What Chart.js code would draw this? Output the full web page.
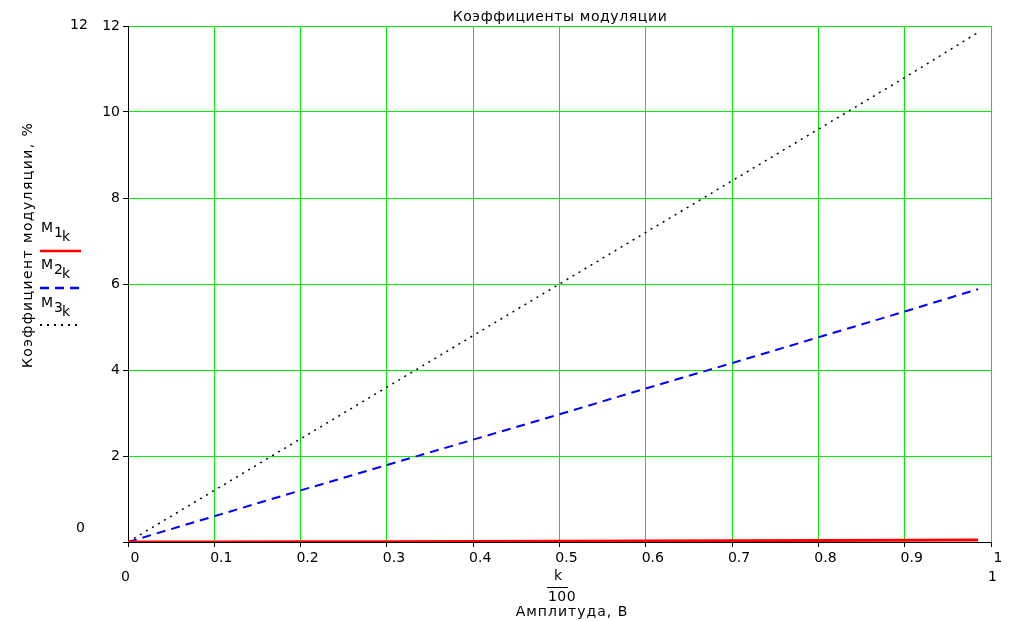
<!DOCTYPE html>
<html>
<head>
<meta charset="utf-8">
<script src="https://cdn.jsdelivr.net/npm/chart.js@4.4.1/dist/chart.umd.min.js"></script>
<style>
  body { margin: 0; background: #fff; }
  #wrap { position: relative; width: 1019px; height: 621px; font-family: "DejaVu Sans", sans-serif; color: #000; }
  #wrap canvas { position: absolute; left: 0; top: 0; }
  .t { position: absolute; white-space: nowrap; line-height: 1; font-size: 14px; }
</style>
</head>
<body>
<div id="wrap">
  <canvas id="modChart" width="1019" height="621"></canvas>

  <div class="t" id="title" style="left:560px; top:9px; letter-spacing:0.6px; transform:translateX(-50%);">Коэффициенты модуляции</div>
  <div class="t" id="ytitle" style="left:27px; top:245px; letter-spacing:1.4px; transform:translate(-50%,-50%) rotate(-90deg);">Коэффициент модуляции, %</div>

  <!-- legend labels -->
  <div class="t" style="left:41px; top:220px;">M</div>
  <div class="t" style="left:54px; top:225px;">1</div>
  <div class="t" style="left:62px; top:229px;">k</div>
  <div class="t" style="left:41px; top:257px;">M</div>
  <div class="t" style="left:54px; top:262px;">2</div>
  <div class="t" style="left:62px; top:266px;">k</div>
  <div class="t" style="left:41px; top:295px;">M</div>
  <div class="t" style="left:54px; top:300px;">3</div>
  <div class="t" style="left:62px; top:304px;">k</div>

  <!-- axis limits -->
  <div class="t" style="left:70px; top:17px;">12</div>
  <div class="t" style="left:76px; top:520px;">0</div>
  <div class="t" style="left:121px; top:569px;">0</div>
  <div class="t" style="left:988px; top:569px;">1</div>

  <!-- x title -->
  <div class="t" style="left:558px; top:568px; transform:translateX(-50%);">k</div>
  <div style="position:absolute; left:547px; top:587px; width:21px; height:1px; background:#000;"></div>
  <div class="t" style="left:562px; top:589px; letter-spacing:0.5px; transform:translateX(-50%);">100</div>
  <div class="t" style="left:572px; top:604px; letter-spacing:1px; transform:translateX(-50%);">Амплитуда, В</div>
</div>

<script>
// values (amplitude k/100 on x)
const amplitude = [0, 0.1, 0.2, 0.3, 0.4, 0.5, 0.6, 0.7, 0.8, 0.9, 0.985];
const m1 = [0, 0.002, 0.005, 0.008, 0.012, 0.018, 0.023, 0.03, 0.036, 0.042, 0.048];
const m2 = [0, 0.6, 1.2, 1.79, 2.38, 2.97, 3.57, 4.16, 4.76, 5.36, 5.88];
const m3 = [0, 1.2, 2.4, 3.6, 4.8, 6.0, 7.2, 8.4, 9.6, 10.8, 11.85];

const xMin = 0, xMax = 1, xStep = 0.1;
const yMin = 0, yMax = 12, yStep = 2;

const gridGreen = '#00ee00';

const toPoints = ys => amplitude.map((x, i) => ({ x: x, y: ys[i] }));

// legend samples on the left, Mathcad style
const legendSamples = {
    id: 'legendSamples',
    afterDraw(chart) {
        const ctx = chart.ctx;
        const rows = [
            { y: 251, color: '#ff0000', width: 2.5, dash: [] },
            { y: 288, color: '#0000ff', width: 2.5, dash: [9, 6] },
            { y: 325, color: '#000000', width: 2, dash: [2, 5] }
        ];
        ctx.save();
        rows.forEach(r => {
            ctx.beginPath();
            ctx.strokeStyle = r.color;
            ctx.lineWidth = r.width;
            ctx.setLineDash(r.dash);
            ctx.moveTo(40, r.y);
            ctx.lineTo(81, r.y);
            ctx.stroke();
        });
        ctx.restore();
    }
};

const ctx = document.getElementById('modChart');

new Chart(ctx, {
    type: 'scatter',
    data: {
        datasets: [{
            label: 'M1',
            data: toPoints(m1),
            showLine: true,
            borderColor: '#ff0000',
            borderWidth: 3,
            pointRadius: 0
        }, {
            label: 'M2',
            data: toPoints(m2),
            showLine: true,
            borderColor: '#0000ff',
            borderWidth: 2,
            borderDash: [9, 6],
            pointRadius: 0
        }, {
            label: 'M3',
            data: toPoints(m3),
            showLine: true,
            borderColor: '#000000',
            borderWidth: 1.5,
            borderDash: [2, 5],
            pointRadius: 0
        }]
    },
    options: {
        responsive: false,
        animation: false,
        events: [],
        layout: { padding: { left: 0, top: 26, right: 28, bottom: 0 } },
        plugins: {
            legend: { display: false },
            title: { display: false },
            tooltip: { enabled: false }
        },
        scales: {
            x: {
                type: 'linear',
                min: xMin,
                max: xMax,
                afterFit: scale => { scale.height = 79; },
                ticks: {
                    stepSize: xStep,
                    color: '#000',
                    font: { family: 'DejaVu Sans', size: 14 },
                    padding: 3,
                    labelOffset: 7,
                    maxRotation: 0,
                    callback: v => String(Math.round(v * 10) / 10)
                },
                grid: { color: gridGreen, lineWidth: 1, tickColor: '#000', tickLength: 5 },
                border: { color: '#000', width: 1 }
            },
            y: {
                min: yMin,
                max: yMax,
                afterFit: scale => { scale.width = 128; },
                ticks: {
                    stepSize: yStep,
                    color: '#000',
                    font: { family: 'DejaVu Sans', size: 14 },
                    padding: 3,
                    callback: v => (v === 0 ? '' : String(v))
                },
                grid: { color: gridGreen, lineWidth: 1, tickColor: '#000', tickLength: 5 },
                border: { color: '#000', width: 1 }
            }
        }
    },
    plugins: [legendSamples]
});
</script>
</body>
</html>
